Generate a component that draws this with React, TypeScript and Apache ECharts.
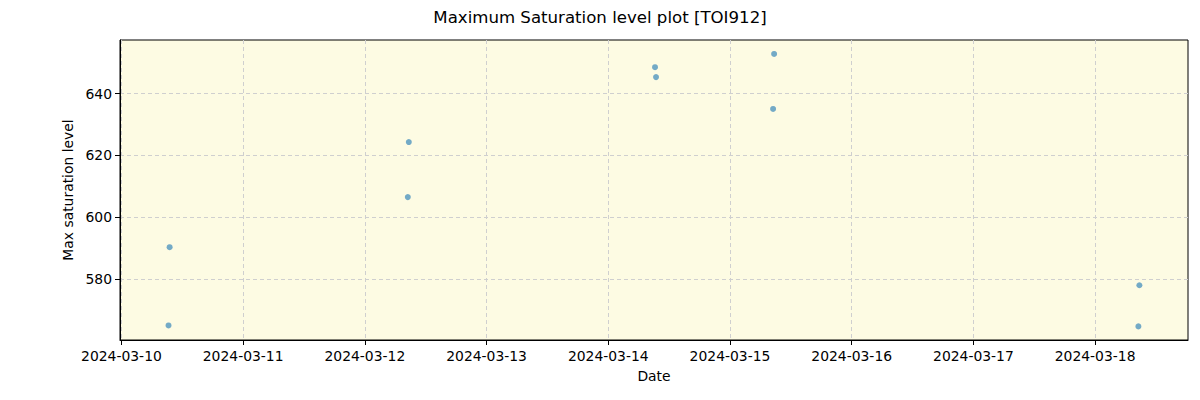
import React, { useEffect, useRef } from "react";
import * as echarts from "echarts";

// Observation times (local time) and the max saturation level measured at each
const obsTimes = [
  "2024-03-10T09:17",
  "2024-03-10T09:30",
  "2024-03-12T08:28",
  "2024-03-12T08:40",
  "2024-03-14T09:13",
  "2024-03-14T09:25",
  "2024-03-15T08:30",
  "2024-03-15T08:42",
  "2024-03-18T08:32",
  "2024-03-18T08:44",
];
const maxSaturation = [565.0, 590.3, 606.5, 624.3, 648.5, 645.3, 635.0, 652.8, 564.7, 578.0];

const xMin = "2024-03-09T23:43";
const xMax = "2024-03-18T18:19";
const yMin = 560.3;
const yMax = 657.3;

const FONT = "DejaVu Sans";

const W = 1200;
const H = 400;

export default function App() {
  const ref = useRef<HTMLDivElement>(null);

  useEffect(() => {
    if (!ref.current) return;
    const chart = echarts.init(ref.current, null, { renderer: "svg" });
    const points = obsTimes.map((t, i) => [new Date(t).getTime(), maxSaturation[i]]);
    const DAY = 86400000;
    // dashed grid lines, skipped at the plot edges so the frame stays solid
    const gridLine = {
      show: true,
      showMinLine: false,
      showMaxLine: false,
      lineStyle: { color: "#cfcfcf", type: [4, 3], width: 1 },
    };

    chart.setOption({
      animation: false,
      backgroundColor: "#ffffff",
      textStyle: { fontFamily: FONT },
      title: {
        text: "Maximum Saturation level plot [TOI912]",
        left: "center",
        top: 4,
        textStyle: { fontFamily: FONT, fontSize: 16.6, fontWeight: "normal", color: "#000" },
      },
      grid: {
        left: 120,
        right: 12,
        top: 40,
        bottom: 60,
        show: true,
        backgroundColor: "#fdfbe3",
        borderColor: "#000",
        borderWidth: 1,
      },
      xAxis: {
        type: "time",
        min: new Date(xMin).getTime(),
        max: new Date(xMax).getTime(),
        minInterval: DAY,
        maxInterval: DAY,
        splitNumber: 9,
        name: "Date",
        nameLocation: "middle",
        nameGap: 29,
        nameTextStyle: { fontFamily: FONT, fontSize: 13.9, color: "#000" },
        axisLine: { show: true, onZero: false, lineStyle: { color: "#000", width: 1 } },
        axisTick: { show: true, length: 5, inside: false, lineStyle: { color: "#000" } },
        axisLabel: {
          formatter: "{yyyy}-{MM}-{dd}",
          fontFamily: FONT,
          fontSize: 13.9,
          color: "#000",
          margin: 9,
          showMinLabel: false,
          showMaxLabel: false,
          hideOverlap: false,
        },
        splitLine: gridLine,
      },
      yAxis: {
        type: "value",
        min: yMin,
        max: yMax,
        splitNumber: 5,
        name: "Max saturation level",
        nameLocation: "middle",
        nameGap: 44,
        nameTextStyle: { fontFamily: FONT, fontSize: 13.9, color: "#000" },
        axisLine: { show: true, onZero: false, lineStyle: { color: "#000", width: 1 } },
        axisTick: { show: true, length: 5, lineStyle: { color: "#000" } },
        axisLabel: {
          fontFamily: FONT,
          fontSize: 13.9,
          color: "#000",
          margin: 8,
          showMinLabel: false,
          showMaxLabel: false,
        },
        splitLine: gridLine,
      },
      series: [
        {
          type: "scatter",
          data: points,
          symbol: "circle",
          symbolSize: 6,
          itemStyle: { color: "#1f77b4", opacity: 0.62 },
        },
      ],
    });

    return () => chart.dispose();
  }, []);

  return (
    <div
      ref={ref}
      style={{ position: "fixed", left: 0, top: 0, width: W, height: H }}
    />
  );
}
